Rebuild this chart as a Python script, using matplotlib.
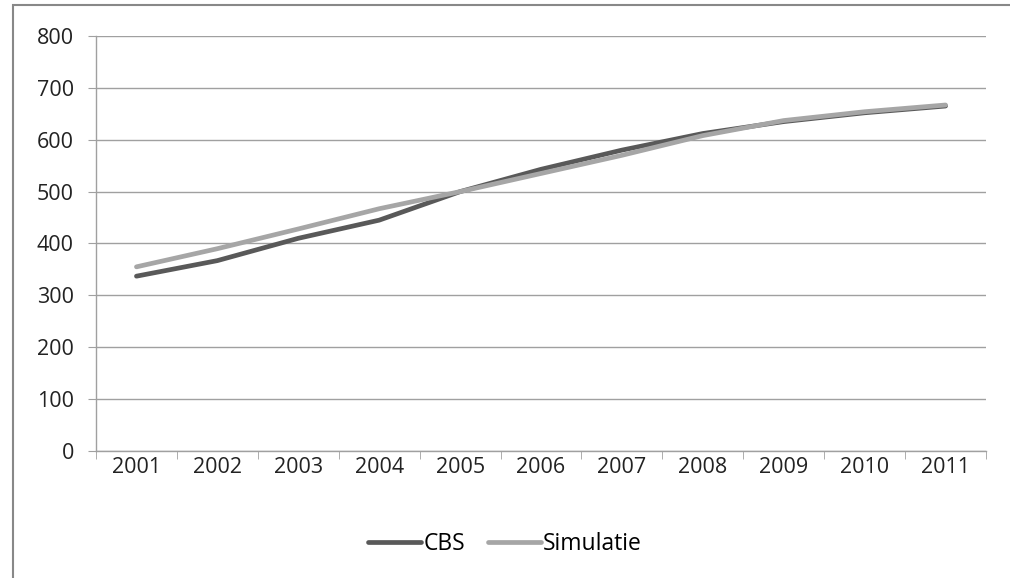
import matplotlib
matplotlib.use('Agg')
import matplotlib.pyplot as plt
from matplotlib.patches import Rectangle

# data
jaren = ['2001', '2002', '2003', '2004', '2005', '2006', '2007', '2008', '2009', '2010', '2011']
cbs = [337, 367, 410, 445, 500, 543, 580, 612, 635, 652, 665]
simulatie = [355, 390, 428, 467, 500, 535, 570, 608, 637, 654, 667]

plt.rcParams['font.family'] = ['Open Sans', 'DejaVu Sans']

fig = plt.figure(figsize=(10.1, 5.78), dpi=100)
ax = fig.add_axes([96 / 1010, 1 - 451 / 578, 890 / 1010, 415 / 578])

x = range(len(jaren))
ax.plot(x, cbs, color='#595959', lw=3.4, solid_capstyle='round', label='CBS')
ax.plot(x, simulatie, color='#a6a6a6', lw=3.4, solid_capstyle='round', label='Simulatie')

ax.set_xlim(-0.5, len(jaren) - 0.5)
ax.set_ylim(0, 800)
ax.set_yticks(range(0, 801, 100))
ax.set_xticks(list(x))
ax.set_xticklabels(jaren)
ax.set_xticks([i - 0.5 for i in range(len(jaren) + 1)], minor=True)
ax.tick_params(axis='x', which='major', length=0, pad=4, labelsize=15.5, colors='#222222')
ax.tick_params(axis='x', which='minor', length=6, color='#a0a0a0', direction='out')
ax.tick_params(axis='y', length=6, color='#a0a0a0', pad=10, labelsize=15.5, colors='#222222')

ax.grid(axis='y', color='#a0a0a0', lw=1)
ax.set_axisbelow(True)
for s in ['top', 'right']:
    ax.spines[s].set_visible(False)
for s in ['left', 'bottom']:
    ax.spines[s].set_color('#a0a0a0')
    ax.spines[s].set_linewidth(1)

fig.legend(loc='center', bbox_to_anchor=(0.5, 1 - 544 / 578), ncol=2, frameon=False,
           fontsize=16.5, handlelength=2.3, handletextpad=0.1, columnspacing=1.0)

# buitenkader
fig.patches.append(Rectangle((13 / 1010, -0.1), 1.2, (1 - 5 / 578) + 0.1,
                             transform=fig.transFigure, fill=False,
                             edgecolor='#888888', lw=1.5))

fig.savefig('out.png', dpi=100)
